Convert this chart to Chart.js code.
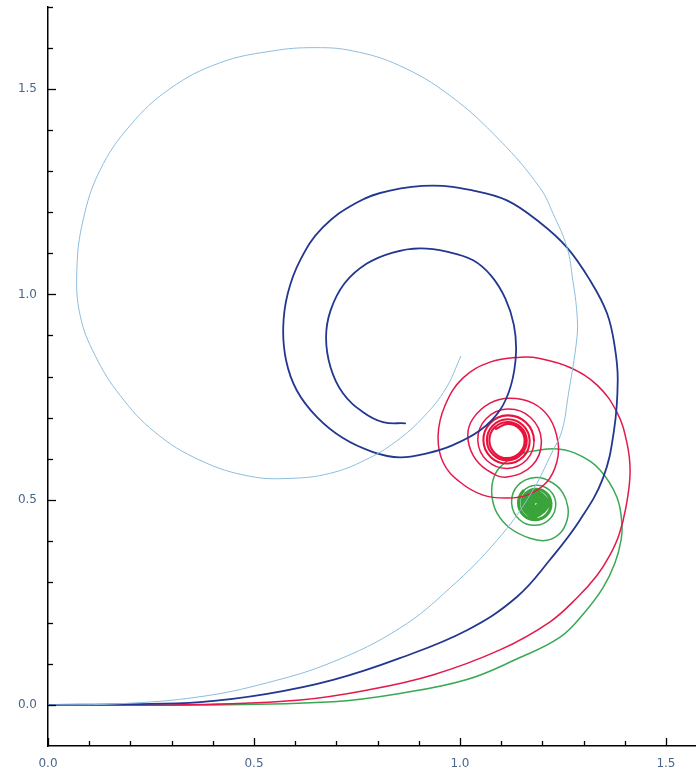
<!DOCTYPE html>
<html><head><meta charset="utf-8">
<script src="https://cdn.jsdelivr.net/npm/chart.js@4.4.0/dist/chart.umd.min.js"></script>
<style>html,body{margin:0;padding:0;background:#fff;}canvas{display:block;}</style>
</head><body>
<canvas id="c" width="696" height="773"></canvas>
<script>
// ---- data ----
const majorTicks = [0, 0.5, 1.0, 1.5];
const xRange = [0, 1.573];
const yRange = [-0.1, 1.7];

const lightBlue = [[0,0],[0.175,0.003],[0.369,0.020],[0.532,0.054],[0.692,0.105],[0.854,0.187],[0.976,0.285],[1.090,0.401],[1.170,0.511],[1.226,0.620],[1.248,0.669],[1.262,0.749],[1.284,0.895],[1.284,0.954],[1.274,1.034],[1.260,1.114],[1.226,1.197],[1.194,1.260],[1.097,1.375],[0.976,1.484],[0.854,1.557],[0.740,1.593],[0.648,1.601],[0.545,1.593],[0.417,1.564],[0.296,1.501],[0.199,1.411],[0.126,1.302],[0.085,1.180],[0.070,1.058],[0.078,0.949],[0.114,0.852],[0.175,0.754],[0.260,0.664],[0.369,0.596],[0.490,0.557],[0.592,0.552],[0.684,0.564],[0.769,0.596],[0.845,0.642],[0.913,0.703],[0.966,0.771],[1.002,0.849]];

const darkBlue = [[0,0],[0.199,0.002],[0.369,0.007],[0.532,0.027],[0.692,0.061],[0.854,0.114],[1.017,0.182],[1.138,0.263],[1.218,0.353],[1.291,0.450],[1.347,0.552],[1.374,0.669],[1.383,0.791],[1.376,0.871],[1.357,0.954],[1.316,1.034],[1.260,1.114],[1.194,1.175],[1.114,1.229],[1.032,1.253],[0.934,1.265],[0.830,1.253],[0.750,1.224],[0.667,1.163],[0.612,1.083],[0.582,1.002],[0.571,0.920],[0.578,0.839],[0.604,0.766],[0.653,0.701],[0.716,0.650],[0.789,0.616],[0.854,0.603],[0.920,0.613],[0.983,0.633],[1.049,0.669],[1.097,0.718],[1.124,0.779],[1.136,0.856],[1.131,0.925],[1.110,0.990],[1.076,1.045],[1.032,1.083],[0.968,1.104],[0.903,1.112],[0.837,1.102],[0.774,1.075],[0.720,1.027],[0.686,0.961],[0.675,0.895],[0.686,0.822],[0.716,0.759],[0.765,0.713],[0.813,0.689],[0.867,0.686]];

const redOuter = [[0,0],[0.369,0.001],[0.612,0.012],[0.774,0.036],[0.934,0.073],[1.097,0.134],[1.218,0.202],[1.286,0.263],[1.333,0.316],[1.364,0.365],[1.386,0.414],[1.403,0.482],[1.413,0.567],[1.405,0.640],[1.381,0.713],[1.333,0.779],[1.267,0.822],[1.194,0.844],[1.146,0.847],[1.073,0.835],[1.007,0.796],[0.964,0.730],[0.947,0.657],[0.959,0.591],[1.000,0.543],[1.056,0.511],[1.114,0.504],[1.163,0.511],[1.211,0.543],[1.235,0.591],[1.238,0.640],[1.218,0.698],[1.177,0.735],[1.121,0.747],[1.073,0.735],[1.032,0.698],[1.019,0.657],[1.032,0.608],[1.066,0.572],[1.114,0.555]];

const redCore = [[1.1758,0.5836],[1.1976,0.644],[1.1715,0.7001],[1.1154,0.7207],[1.0629,0.6965],[1.0434,0.644],[1.066,0.5946],[1.1154,0.5761],[1.1621,0.5973],[1.1798,0.644],[1.1598,0.6884],[1.1154,0.7053],[1.0731,0.6863],[1.0569,0.644],[1.0749,0.6035],[1.1154,0.588],[1.1542,0.6052],[1.1692,0.644],[1.1527,0.6813],[1.1154,0.6958],[1.0794,0.68],[1.0654,0.644],[1.0807,0.6093],[1.1154,0.5957],[1.149,0.6104],[1.1621,0.644],[1.1479,0.6765],[1.1154,0.6893],[1.0838,0.6756],[1.0714,0.644],[1.0847,0.6133],[1.1154,0.6012],[1.1452,0.6142],[1.157,0.644],[1.1444,0.673],[1.1154,0.6845],[1.0871,0.6723]];

const greenOuter = [[0,0],[0.369,0.000],[0.692,0.008],[0.854,0.028],[1.017,0.062],[1.138,0.112],[1.243,0.165],[1.303,0.226],[1.347,0.285],[1.376,0.345],[1.391,0.401],[1.393,0.443],[1.381,0.506],[1.340,0.572],[1.291,0.608],[1.243,0.623],[1.187,0.620],[1.138,0.608],[1.097,0.579],[1.080,0.547],[1.078,0.506],[1.090,0.467],[1.121,0.431],[1.170,0.406],[1.211,0.401],[1.243,0.418],[1.260,0.450],[1.262,0.482],[1.250,0.516],[1.226,0.540],[1.184,0.554]];

const greenCore = [[1.1402,0.5343],[1.1255,0.4905],[1.1447,0.4512],[1.184,0.4375],[1.2198,0.4547],[1.2325,0.4905],[1.217,0.5235],[1.184,0.5353],[1.1535,0.521],[1.1423,0.4905],[1.1554,0.4619],[1.184,0.4515],[1.2108,0.4637],[1.2208,0.4905],[1.2093,0.5158],[1.184,0.5253],[1.16,0.5145],[1.1509,0.4905],[1.1612,0.4677],[1.184,0.459],[1.2141,0.4905],[1.184,0.5193],[1.1564,0.4905],[1.184,0.4639],[1.2096,0.4905],[1.184,0.5152],[1.1601,0.4905],[1.184,0.4673],[1.2065,0.4905],[1.184,0.5123],[1.1628,0.4905],[1.184,0.4699],[1.204,0.4905],[1.184,0.5099],[1.1651,0.4905],[1.184,0.4721],[1.2018,0.4905],[1.184,0.5077],[1.1674,0.4905],[1.184,0.4745],[1.1994,0.4905],[1.184,0.5053],[1.1698,0.4905],[1.184,0.4769],[1.197,0.4905],[1.184,0.5029],[1.1722,0.4905],[1.184,0.4793],[1.1946,0.4905],[1.184,0.5005],[1.1746,0.4905],[1.184,0.4817],[1.1923,0.4905],[1.184,0.4983],[1.1767,0.4905],[1.184,0.4837],[1.1904,0.4905],[1.184,0.4965],[1.1784,0.4905]];

// ---- chart ----
const toXY = arr => arr.map(p => ({x: p[0], y: p[1]}));
const isMajor = v => Math.abs(v * 2 - Math.round(v * 2)) < 1e-6;

// dense (inner) part of a spiral is drawn a little heavier, as in the reference
function ds(outer, core, denseFrom, color, denseColor, width, denseWidth) {
  const start = outer.length + denseFrom;
  return {data: toXY(outer.concat(core)), borderColor: color, backgroundColor: color, borderWidth: width,
          pointRadius: 0, pointHoverRadius: 0, tension: 0.4, fill: false,
          borderJoinStyle: 'round', borderCapStyle: 'round',
          segment: {
            borderWidth: c => (c.p0DataIndex >= start ? denseWidth : width),
            borderColor: c => (c.p0DataIndex >= start ? denseColor : color)
          }};
}

const innerTicks = {
  id: 'innerTicks',
  afterDraw(chart) {
    const {ctx, scales: {x, y}} = chart;
    ctx.save();
    ctx.strokeStyle = '#000';
    ctx.lineWidth = 1.3;
    x.ticks.forEach(t => {
      if (t.value < -1e-9) return;
      const px = Math.round(x.getPixelForValue(t.value)) + 0.5;
      const len = isMajor(t.value) ? 8 : 5;
      ctx.beginPath(); ctx.moveTo(px, x.top); ctx.lineTo(px, x.top - len); ctx.stroke();
    });
    y.ticks.forEach(t => {
      if (t.value < -1e-9) return;
      const py = Math.round(y.getPixelForValue(t.value)) + 0.5;
      const len = isMajor(t.value) ? 8 : 5;
      ctx.beginPath(); ctx.moveTo(y.right, py); ctx.lineTo(y.right + len, py); ctx.stroke();
    });
    ctx.restore();
  }
};

const tickFont = {family: 'DejaVu Sans', size: 12};
const tickColor = '#4a6688';
const labelCb = v => (majorTicks.some(m => Math.abs(m - v) < 1e-6) ? Number(v).toFixed(1) : '');

new Chart(document.getElementById('c'), {
  type: 'line',
  data: {datasets: [
    ds(lightBlue, [], 0, '#8dbddc', '#8dbddc', 1.0, 1.0),
    ds(darkBlue, [], 0, '#22378f', '#22378f', 1.8, 1.8),
    ds(redOuter, redCore, 9, '#e3194c', '#e8123c', 1.5, 2.1),
    ds(greenOuter, greenCore, 8, '#3aa852', '#3aa33a', 1.5, 3.2)
  ]},
  options: {
    responsive: false,
    animation: false,
    layout: {autoPadding: false, padding: {top: 7, right: 0, left: 0, bottom: 0}},
    plugins: {legend: {display: false}, tooltip: {enabled: false}},
    scales: {
      x: {
        type: 'linear', min: xRange[0], max: xRange[1],
        afterFit: s => { s.height = 27; s.paddingLeft = 0; s.paddingRight = 0; },
        grid: {drawOnChartArea: false, drawTicks: false},
        border: {display: true, color: '#000', width: 1.5},
        ticks: {stepSize: 0.1, includeBounds: false, autoSkip: false, maxRotation: 0, padding: 11,
                font: tickFont, color: tickColor, callback: labelCb}
      },
      y: {
        type: 'linear', min: yRange[0], max: yRange[1],
        afterFit: s => { s.width = 48; s.paddingTop = 0; s.paddingBottom = 0; },
        grid: {drawOnChartArea: false, drawTicks: false},
        border: {display: true, color: '#000', width: 1.5},
        ticks: {stepSize: 0.1, autoSkip: false, padding: 11,
                font: tickFont, color: tickColor, callback: labelCb}
      }
    }
  },
  plugins: [innerTicks]
});
</script>
</body></html>
